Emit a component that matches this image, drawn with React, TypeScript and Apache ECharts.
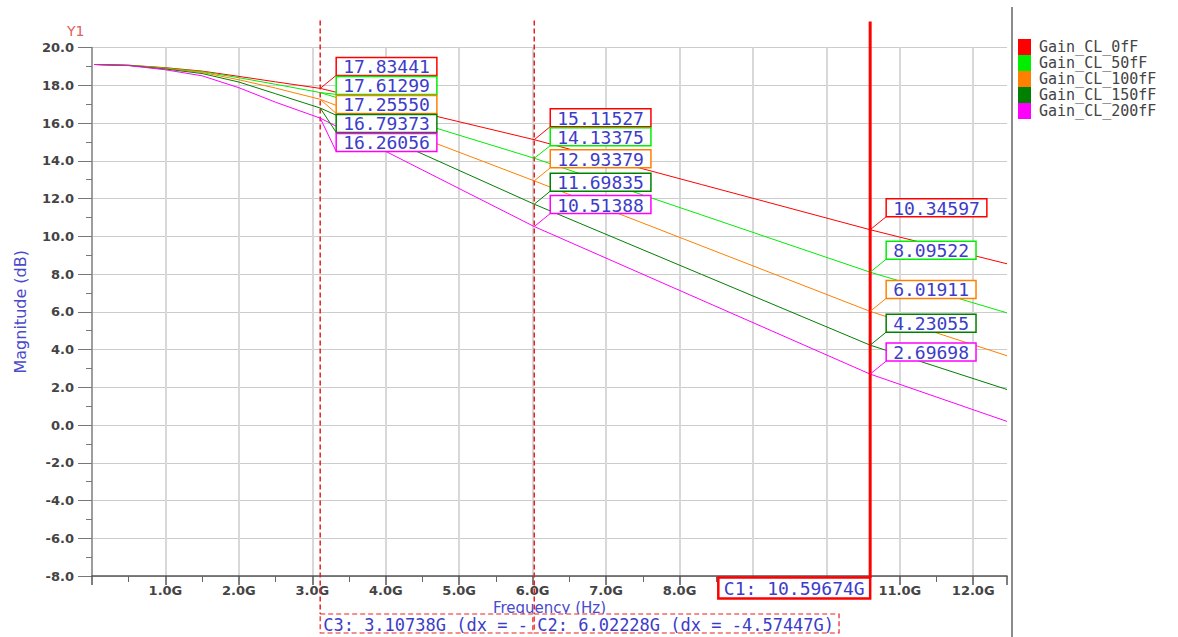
import React, { useEffect, useRef } from "react";
import * as echarts from "echarts";

// ---- data ----
const freqGHz = [0.03, 0.5, 1.0, 1.5, 2.0, 2.5, 3.10738, 4.5, 6.02228, 8.3, 10.59674, 12.46];
const seriesNames = ["Gain_CL_0fF", "Gain_CL_50fF", "Gain_CL_100fF", "Gain_CL_150fF", "Gain_CL_200fF"];
const seriesColors = ["#ff0000", "#00ee00", "#ff8000", "#008000", "#ff00ff"];
const gain0fF = [19.1, 19.06, 18.93, 18.75, 18.47, 18.18, 17.83441, 16.53, 15.11527, 12.74, 10.34597, 8.54];
const gain50fF = [19.1, 19.06, 18.91, 18.72, 18.4, 18.05, 17.61299, 15.95, 14.13375, 11.13, 8.09522, 5.94];
const gain100fF = [19.1, 19.05, 18.89, 18.68, 18.29, 17.85, 17.2555, 15.19, 12.93379, 9.49, 6.01911, 3.67];
const gain150fF = [19.1, 19.05, 18.86, 18.62, 18.17, 17.55, 16.79373, 14.36, 11.69835, 7.98, 4.23055, 1.88];
const gain200fF = [19.1, 19.04, 18.82, 18.5, 17.87, 17.1, 16.26056, 13.51, 10.51388, 6.62, 2.69698, 0.19];
const seriesValues = [gain0fF, gain50fF, gain100fF, gain150fF, gain200fF];

const cursorFreqGHz = [3.10738, 6.02228, 10.59674];
const cursorLabels = ["C3: 3.10738G (dx = -", "C2: 6.02228G (dx = -4.57447G)", "C1: 10.59674G"];
const cursorSolid = [false, false, true];

const xMin = 0;
const xMax = 12.46;
const yMin = -8;
const yMax = 20;

const BLUE = "#3c3cc8";
const CURSOR_RED = "#e82020";
const MONO = '"DejaVu Sans Mono", monospace';

export default function App() {
  const ref = useRef<HTMLDivElement>(null);
  useEffect(() => {
    const chart = echarts.init(ref.current!, null, { renderer: "svg" });

    const lineSeries = seriesNames.map((name, s) => ({
      name,
      type: "line",
      data: freqGHz.map((f, i) => [f, seriesValues[s][i]]),
      showSymbol: false,
      color: seriesColors[s],
      lineStyle: { width: 1, color: seriesColors[s] },
      z: 3,
    }));

    const markerData: number[][] = [];
    cursorFreqGHz.forEach((f, c) => {
      const idx = freqGHz.indexOf(f);
      seriesValues.forEach((arr, s) => markerData.push([f, arr[idx], s, c]));
    });

    const valueFs = 18;
    const charW = valueFs * 0.602;

    const markerSeries = {
      type: "custom",
      name: "markers",
      clip: false,
      silent: true,
      z: 6,
      encode: { x: 0, y: 1 },
      data: markerData,
      renderItem: (params: any, api: any) => {
        const f = api.value(0);
        const v = api.value(1);
        const s = api.value(2);
        const idx = freqGHz.indexOf(f);
        const p = api.coord([f, v]);
        let bottom = -Infinity;
        for (let j = 0; j <= s; j++) {
          const py = api.coord([f, seriesValues[j][idx]])[1];
          bottom = Math.max(py - 13, bottom + 19);
        }
        const text = v.toFixed(5);
        const w = text.length * charW + 14;
        const bx = p[0] + 16;
        return {
          type: "group",
          children: [
            {
              type: "line",
              shape: { x1: p[0], y1: p[1], x2: bx, y2: bottom },
              style: { stroke: seriesColors[s], lineWidth: 1 },
            },
            {
              type: "rect",
              shape: { x: bx, y: bottom - 18, width: w, height: 18 },
              style: { fill: "#ffffff", stroke: seriesColors[s], lineWidth: 1.5 },
            },
            {
              type: "text",
              x: bx + 7,
              y: bottom - 8.5,
              style: {
                text,
                fill: BLUE,
                fontSize: valueFs,
                fontFamily: MONO,
                align: "left",
                verticalAlign: "middle",
              },
            },
          ],
        };
      },
    };

    const cursorFs = 17;
    const cursorCharW = cursorFs * 0.602;
    const cursorSeries = {
      type: "custom",
      name: "cursors",
      clip: false,
      silent: true,
      z: 5,
      encode: { x: 0, y: 1 },
      data: cursorFreqGHz.map((f, c) => [f, c]),
      renderItem: (params: any, api: any) => {
        const f = api.value(0);
        const c = api.value(1);
        const top = api.coord([f, yMax]);
        const bot = api.coord([f, yMin]);
        const cx = top[0];
        const label = cursorLabels[c];
        if (cursorSolid[c]) {
          const w = label.length * (18 * 0.602) + 11;
          return {
            type: "group",
            children: [
              {
                type: "line",
                shape: { x1: cx, y1: top[1] - 26, x2: cx, y2: bot[1] + 2 },
                style: { stroke: "#ff0000", lineWidth: 3 },
              },
              {
                type: "rect",
                shape: { x: cx - w, y: bot[1] + 1.5, width: w, height: 21 },
                style: { fill: "#ffffff", stroke: "#ff0000", lineWidth: 2.5 },
              },
              {
                type: "text",
                x: cx - w / 2,
                y: bot[1] + 12,
                style: {
                  text: label,
                  fill: BLUE,
                  fontSize: 18,
                  fontFamily: MONO,
                  align: "center",
                  verticalAlign: "middle",
                },
              },
            ],
          };
        }
        const w = label.length * cursorCharW + 8;
        return {
          type: "group",
          children: [
            {
              type: "line",
              shape: { x1: cx, y1: top[1] - 27, x2: cx, y2: bot[1] + 38 },
              style: { stroke: CURSOR_RED, lineWidth: 1.5, lineDash: [5, 3] },
            },
            {
              type: "rect",
              shape: { x: cx, y: bot[1] + 38, width: w, height: 19 },
              style: { fill: "#ffffff", stroke: CURSOR_RED, lineWidth: 1.2, lineDash: [5, 3] },
            },
            {
              type: "text",
              x: cx + 3,
              y: bot[1] + 49,
              style: {
                text: label,
                fill: BLUE,
                fontSize: cursorFs,
                fontFamily: MONO,
                align: "left",
                verticalAlign: "middle",
              },
            },
          ],
        };
      },
    };

    const option: any = {
      animation: false,
      backgroundColor: "#ffffff",
      grid: { left: 92, right: 171, top: 47.5, bottom: 61 },
      legend: {
        orient: "vertical",
        left: 1018,
        top: 39,
        padding: 0,
        itemWidth: 13,
        itemHeight: 16,
        itemGap: 0,
        icon: "rect",
        data: seriesNames,
        textStyle: { fontFamily: MONO, fontSize: 15, lineHeight: 16, color: "#444444", padding: [0, 0, 0, 3] },
      },
      xAxis: {
        type: "value",
        min: xMin,
        max: xMax,
        interval: 1,
        name: "Frequency (Hz)",
        nameLocation: "middle",
        nameGap: 24,
        nameMoveOverlap: false,
        nameTextStyle: { color: "#4a4acc", fontSize: 15, fontFamily: "DejaVu Sans" },
        axisLine: { show: true, onZero: false, lineStyle: { color: "#555555", width: 1.5 } },
        axisTick: { show: true, length: 9, lineStyle: { color: "#555555", width: 1.5 } },
        minorTick: { show: true, splitNumber: 2, length: 6, lineStyle: { color: "#666666", width: 1 } },
        splitLine: { show: true, showMaxLine: false, lineStyle: { color: "#d8d8d8", width: 2 } },
        axisLabel: {
          showMinLabel: false,
          showMaxLabel: false,
          margin: 8,
          color: "#444444",
          fontSize: 13,
          fontWeight: "bold",
          fontFamily: "DejaVu Sans",
          formatter: (v: number) =>
            v <= 0 || v > 12.01 || Math.abs(v - 9) < 1e-6 || Math.abs(v - 10) < 1e-6 ? "" : v.toFixed(1) + "G",
        },
      },
      yAxis: {
        type: "value",
        min: yMin,
        max: yMax,
        interval: 2,
        name: "Magnitude (dB)",
        nameLocation: "middle",
        nameGap: 64,
        nameMoveOverlap: false,
        nameTextStyle: { color: "#4a4acc", fontSize: 16, fontFamily: "DejaVu Sans" },
        axisLine: { show: true, onZero: false, lineStyle: { color: "#8a8a8a", width: 1.5 } },
        axisTick: { show: true, length: 14, lineStyle: { color: "#777777", width: 1 } },
        minorTick: { show: true, splitNumber: 2, length: 6, lineStyle: { color: "#777777", width: 1 } },
        splitLine: { show: true, lineStyle: { color: "#cccccc", width: 1 } },
        axisLabel: {
          margin: 18,
          color: "#444444",
          fontSize: 13,
          fontWeight: "bold",
          fontFamily: "DejaVu Sans",
          formatter: (v: number) => v.toFixed(1),
        },
      },
      graphic: [
        {
          type: "line",
          shape: { x1: 1012, y1: 7, x2: 1012, y2: 637 },
          style: { stroke: "#8a8a8a", lineWidth: 2 },
          silent: true,
        },
        {
          type: "text",
          left: 67,
          top: 24,
          style: { text: "Y1", fill: "#e06060", fontSize: 14, fontFamily: "DejaVu Sans" },
          silent: true,
        },
      ],
      series: [...lineSeries, cursorSeries, markerSeries],
    };

    chart.setOption(option);
    return () => chart.dispose();
  }, []);

  return (
    <div
      ref={ref}
      style={{ position: "absolute", left: 0, top: 0, width: 1178, height: 637 }}
    />
  );
}
